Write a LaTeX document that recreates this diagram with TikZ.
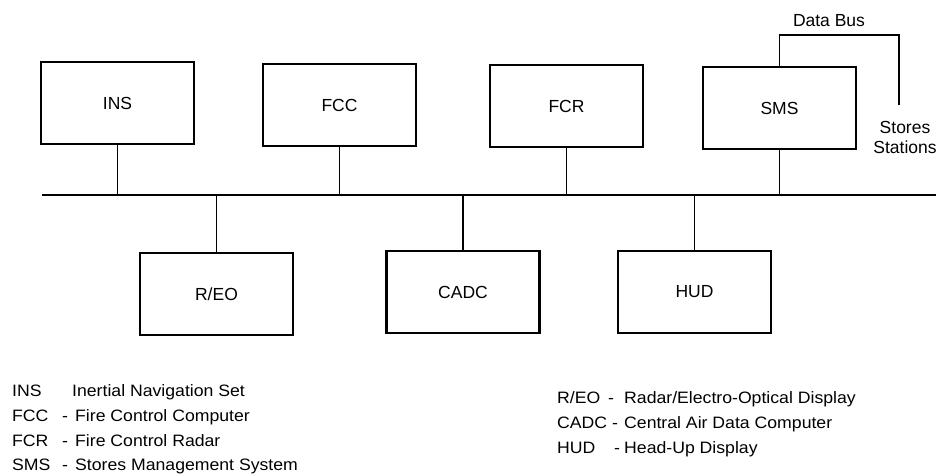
\documentclass[tikz,border=0pt]{standalone}
\usepackage{fontspec}
\setmainfont{Liberation Sans}
\newfontfamily\legfont[FakeStretch=1.07]{Liberation Sans}
\begin{document}
\begin{tikzpicture}[x=1pt,y=-1pt,
  unit/.style={draw, line width=2.2pt, minimum width=153pt, minimum height=82pt, inner sep=0pt, font=\fontsize{17.5}{20}\selectfont},
  bus/.style={line width=1.1pt},
  lab/.style={inner sep=0pt, font=\fontsize{17.5}{20}\selectfont},
  leg/.style={inner sep=0pt, anchor=base west, font=\legfont\fontsize{16.5}{19}\selectfont}]
\useasboundingbox (0,0) rectangle (938,474);
% units
\node[unit] (ins) at (117.5,103) {INS};
\node[unit] (fcc) at (339.5,105) {FCC};
\node[unit] (fcr) at (566.5,106) {FCR};
\node[unit] (sms) at (779.5,108) {SMS};
\node[unit] (reo) at (216.5,294) {R/EO};
\node[unit] (cadc) at (463,292) {CADC};
\node[unit] (hud) at (694.5,292) {HUD};
% bus
\coordinate (busL) at (42,195);
\coordinate (busR) at (936,195);
\draw[bus] (busL) -- (busR);
\foreach \n in {ins,fcc,fcr,sms}{\draw[bus] (\n.south) -- (\n.south |- busL);}
\foreach \n in {reo,cadc,hud}{\draw[bus] (\n.north) -- (\n.north |- busL);}
% data bus to stores
\node[lab] (dbl) at (829,21) {Data Bus};
\node[lab, align=center] (st) at (905,137) {Stores\\Stations};
\coordinate (dbc) at (899,35);
\coordinate (dbe) at (899,105);
\draw[bus] (sms.north) |- (dbc) -- (dbe);
% legend left
\node[leg] (l1a) at (12,396) {INS};
\node[leg] (l1b) at (72,396) {Inertial Navigation Set};
\node[leg] (l2a) at (12,421) {FCC};
\node[leg] (l2d) at (62,421) {-};
\node[leg] (l2b) at (75,421) {Fire Control Computer};
\node[leg] (l3a) at (12,446) {FCR};
\node[leg] (l3d) at (62,446) {-};
\node[leg] (l3b) at (75,446) {Fire Control Radar};
\node[leg] (l4a) at (12,470) {SMS};
\node[leg] (l4d) at (62,470) {-};
\node[leg] (l4b) at (75,470) {Stores Management System};
% legend right
\node[leg] (r1a) at (557,403) {R/EO};
\node[leg] (r1d) at (608,403) {-};
\node[leg] (r1b) at (624,403) {Radar/Electro-Optical Display};
\node[leg] (r2a) at (557,428) {CADC};
\node[leg] (r2d) at (612,428) {-};
\node[leg] (r2b) at (624,428) {Central Air Data Computer};
\node[leg] (r3a) at (557,453) {HUD};
\node[leg] (r3d) at (614,453) {-};
\node[leg] (r3b) at (624,453) {Head-Up Display};
\end{tikzpicture}
\end{document}
